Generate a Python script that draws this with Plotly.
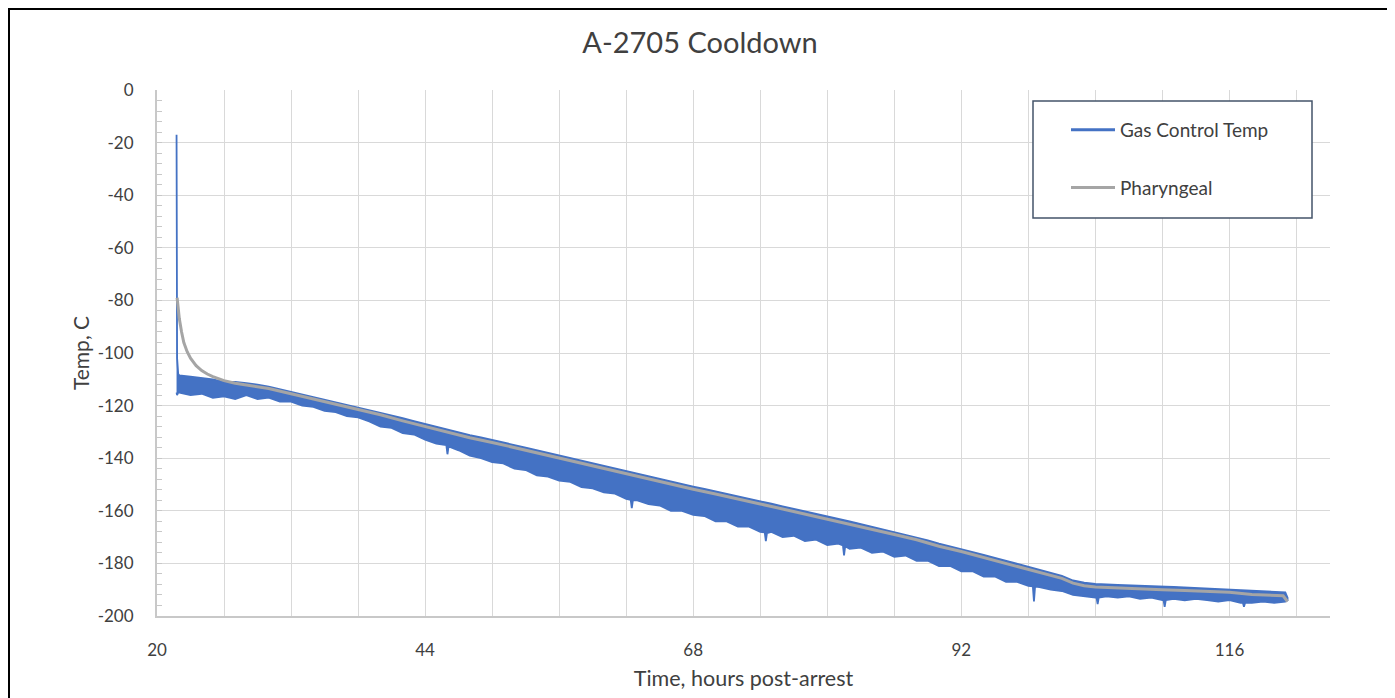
import plotly.graph_objects as go

# ---------------- data ----------------
# Gas Control Temp: upper / lower edges of the noisy band (deg C) at these hours
gas_hours = [21.75, 21.8, 21.9, 22, 23, 24, 25, 26, 27, 28, 29, 30, 31, 32, 33, 34, 35, 36, 37, 38, 39,
             40, 41, 42, 43, 44, 45, 45.9, 46, 46.1, 47, 48, 49, 50, 51, 52, 53, 54, 55, 56, 57, 58, 59,
             60, 61, 62, 62.4, 62.5, 62.6, 63, 64, 65, 66, 67, 68, 69, 70, 71, 72, 73, 74, 74.4, 74.5,
             74.6, 75, 76, 77, 78, 79, 80, 81, 81.4, 81.5, 81.6, 82, 83, 84, 85, 86, 87, 88, 89, 90,
             91, 92, 93, 94, 95, 96, 97, 98, 98.4, 98.5, 98.6, 99, 100, 101, 102, 103, 104, 104.1,
             104.2, 104.3, 105, 106, 107, 108, 109, 110, 110.1, 110.2, 110.3, 111, 112, 113, 114, 115,
             116, 117, 117.2, 117.3, 117.4, 118, 119, 120, 121, 121.2]
gas_upper = [-17, -102, -108, -108.5, -109, -109.5, -110, -111, -111, -111.5, -112, -112.8, -113.8,
             -114.8, -115.8, -116.6, -117.6, -118.6, -119.6, -120.6, -121.6, -122.6, -123.6, -124.8,
             -125.9, -127, -128, -128.9, -129, -129.1, -130.2, -131.2, -132.1, -133, -134, -135, -136,
             -137, -138, -139, -140, -141, -142, -143, -144, -145, -145.4, -145.5, -145.6, -146, -147,
             -148, -149, -149.9, -150.8, -151.7, -152.6, -153.6, -154.6, -155.5, -156.4, -156.8,
             -156.9, -157, -157.3, -158.3, -159.2, -160.2, -161.1, -162.1, -163, -163.4, -163.5,
             -163.6, -164, -165, -166, -167, -168, -169, -170, -171.2, -172.5, -173.5, -174.5, -175.6,
             -176.8, -177.9, -179, -180.1, -181.2, -181.6, -181.7, -181.8, -182.3, -183.5, -184.7,
             -186.5, -187.3, -187.8, -187.8, -187.8, -187.9, -188, -188.2, -188.4, -188.6, -188.7,
             -188.8, -188.8, -188.8, -188.8, -188.9, -189.1, -189.2, -189.4, -189.6, -189.8, -190,
             -190.1, -190.1, -190.1, -190.4, -190.6, -190.8, -191, -193]
gas_lower = [-115, -116, -115, -115, -116, -115.5, -117, -116.5, -117.5, -116, -117.5, -117, -118.5,
             -118.5, -120, -120.5, -122, -122.5, -124, -124.5, -126, -128, -128.5, -130.5, -131,
             -133, -134.5, -135, -138.5, -135.5, -137, -139, -140, -141.5, -142, -144, -144.5, -146.5,
             -147, -148.5, -149, -151, -151.5, -153, -153.5, -155.5, -155.8, -159, -156, -156, -157.5,
             -158, -160, -160, -161.5, -162, -164, -164, -166, -166, -168, -168.2, -171.5, -168.5,
             -168, -170, -169.5, -171.5, -171, -173, -172.5, -173.2, -177, -173.5, -174.5, -174, -176,
             -175.5, -177.5, -177, -179, -179, -181, -181, -183, -183, -185, -185, -187, -187, -188.5,
             -188.7, -194.5, -188.8, -189, -190, -190.5, -192, -192.5, -193, -193, -195.5, -193,
             -192.5, -193, -192.5, -193.5, -193, -194, -194, -196.5, -194, -193.5, -194, -193.5, -194,
             -194.5, -194, -195, -195, -196.5, -195, -195, -194.5, -195, -194.5, -194]

# Pharyngeal temperature (deg C)
phar_hours = [21.8, 21.9, 22.0, 22.2, 22.4, 22.7, 23.0, 23.5, 24.0, 24.5, 25, 26, 27, 28, 30, 32, 34,
              36, 38, 40, 42, 44, 46, 48, 50, 52, 54, 56, 58, 60, 62, 64, 66, 68, 70, 72, 74, 76, 78,
              80, 82, 84, 86, 88, 90, 92, 94, 96, 98, 100, 101, 102, 103, 104, 106, 108, 110, 112,
              114, 116, 118, 120, 120.8, 121.2]
phar_temp = [-79, -83, -87, -92, -96, -99.5, -102, -104.8, -106.7, -108, -109, -110.5, -111.5,
             -112.2, -113.5, -115.5, -117.5, -119.5, -121.5, -123.5, -125.8, -128, -130.2, -132.2,
             -134, -136, -138, -140, -142, -144, -146, -148, -150, -151.8, -153.6, -155.6, -157.4,
             -159.3, -161.2, -163.1, -165, -167, -169, -171, -173.5, -175.5, -177.8, -180, -182.2,
             -184.5, -185.7, -187.5, -188.5, -189, -189.4, -189.8, -190, -190.3, -190.6, -191,
             -191.8, -192.2, -192.3, -194.5]

series_names = ["Gas Control Temp", "Pharyngeal"]
x_tickvals = [20, 44, 68, 92, 116]
y_tickvals = [0, -20, -40, -60, -80, -100, -120, -140, -160, -180, -200]

BLUE = "#4472c4"
GRAY = "#a5a5a5"
FONT = "Lato"
TXT = "#404040"

fig = go.Figure()

# noisy band of the gas control temperature
fig.add_trace(go.Scatter(
    x=gas_hours + gas_hours[::-1],
    y=gas_upper + gas_lower[::-1],
    mode="lines", fill="toself", fillcolor=BLUE,
    line=dict(color=BLUE, width=1.8),
    showlegend=False, hoverinfo="skip",
))
# legend entry for the gas series
fig.add_trace(go.Scatter(x=[None], y=[None], mode="lines", name=series_names[0],
                         line=dict(color=BLUE, width=3), legendgroup="a"))
fig.add_trace(go.Scatter(x=phar_hours, y=phar_temp, mode="lines", name=series_names[1],
                         line=dict(color=GRAY, width=3), legendgroup="b"))

# the page body has an 8px margin; reference pixel coords are shifted by it
OFF = 8
FW, FH = 1395 - OFF, 698 - OFF
L, R, T, B = 157 - OFF, 1330 - OFF, 90 - OFF, 616 - OFF
W, H = R - L, B - T
def px(x):
    return (x - OFF - L) / W
def py(y):
    return (B - (y - OFF)) / H

shapes = [
    # legend box
    dict(type="rect", xref="paper", yref="paper", x0=px(1033), x1=px(1312), y0=py(218), y1=py(101),
         line=dict(color="#44546a", width=1.5), fillcolor="white", layer="above"),
    # outer chart frame (as close to the page edge as the page margin allows)
    dict(type="line", xref="paper", yref="paper", x0=px(8), x1=px(1394), y0=py(9), y1=py(9),
         line=dict(color="black", width=2)),
    dict(type="line", xref="paper", yref="paper", x0=px(9), x1=px(9), y0=py(8), y1=py(720),
         line=dict(color="black", width=2)),
    dict(type="line", xref="paper", yref="paper", x0=px(1393), x1=px(1393), y0=py(8), y1=py(720),
         line=dict(color="#d9d9d9", width=1)),
]

fig.update_layout(
    width=FW, height=FH,
    margin=dict(l=L, r=FW - R, t=T, b=FH - B),
    paper_bgcolor="white", plot_bgcolor="white",
    font=dict(family=FONT, color=TXT),
    title=dict(text="A-2705 Cooldown", x=(700 - OFF) / FW, xref="container", xanchor="center",
               y=1 - (43 - OFF) / FH, yanchor="middle",
               font=dict(family=FONT, size=29, color=TXT)),
    shapes=shapes,
    legend=dict(x=px(1066), y=py(111), xanchor="left", yanchor="top",
                bgcolor="rgba(0,0,0,0)", borderwidth=0,
                font=dict(family=FONT, size=19, color=TXT),
                traceorder="grouped", tracegroupgap=30, itemwidth=44),
    xaxis=dict(range=[20, 125], tickmode="array", tickvals=x_tickvals,
               ticktext=[str(v) for v in x_tickvals],
               showgrid=True, gridcolor="#d9d9d9", gridwidth=1.3,
               minor=dict(dtick=6, tick0=20, showgrid=True, gridcolor="#d9d9d9", gridwidth=1.3),
               showline=True, linecolor="#c8c8c8", linewidth=2,
               ticks="", ticklabelstandoff=18, zeroline=False,
               tickfont=dict(family=FONT, size=17, color=TXT),
               title=dict(text="Time, hours post-arrest", standoff=12,
                          font=dict(family=FONT, size=21.5, color=TXT))),
    yaxis=dict(range=[-200, 0], tickmode="array", tickvals=y_tickvals,
               ticktext=[str(v) for v in y_tickvals],
               showgrid=True, gridcolor="#d9d9d9", gridwidth=1.3,
               minor=dict(dtick=4, tick0=0, ticks="inside", ticklen=5, tickcolor="#c8c8c8",
                          tickwidth=1.3, showgrid=False),
               showline=True, linecolor="#c8c8c8", linewidth=2,
               ticks="inside", ticklen=5, tickcolor="#c8c8c8",
               ticklabelstandoff=18, zeroline=False,
               tickfont=dict(family=FONT, size=17, color=TXT),
               title=dict(text="Temp, C", standoff=2,
                          font=dict(family=FONT, size=21, color=TXT))),
)

fig.write_html("out.html")
